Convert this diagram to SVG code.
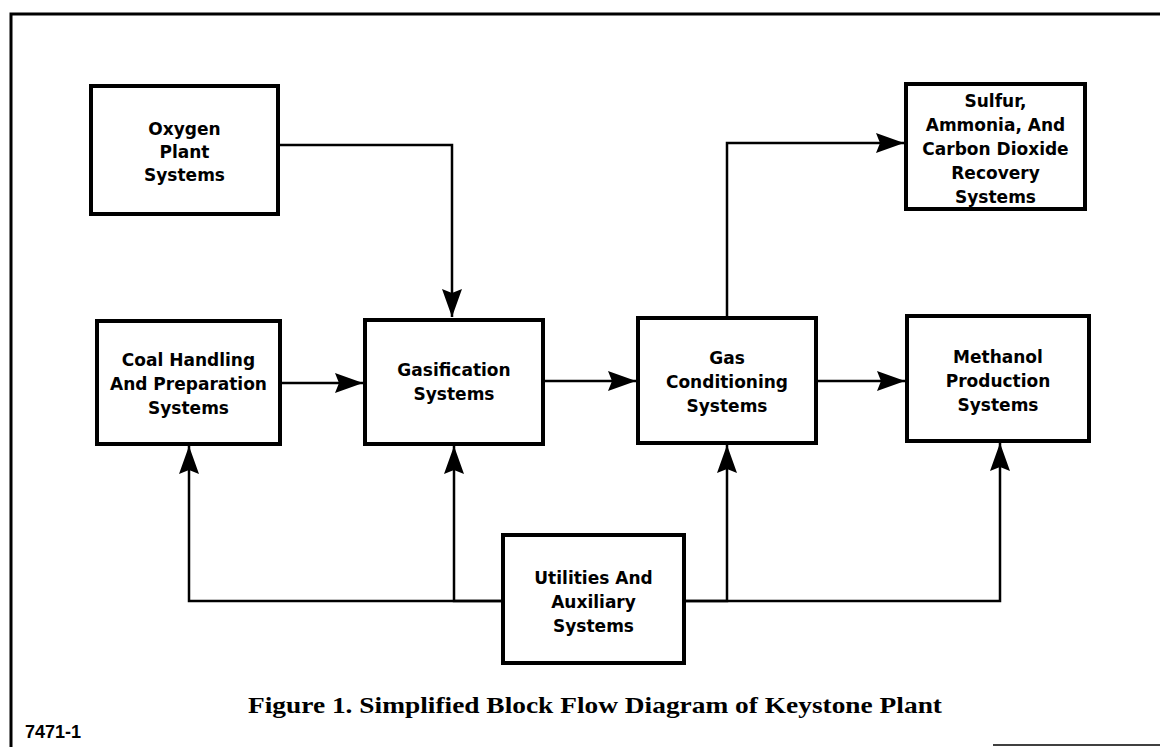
<svg xmlns="http://www.w3.org/2000/svg" width="1160" height="747" viewBox="0 0 1160 747">
<style>
.box{fill:#fff;stroke:#000;stroke-width:4}
.lbl{font-family:"DejaVu Sans","Liberation Sans",sans-serif;font-weight:bold;font-size:17px;text-anchor:middle;fill:#000}
.conn{fill:none;stroke:#000;stroke-width:2.5}
.frame{stroke:#000;stroke-width:3;fill:none}
</style>
<defs>
<marker id="ah" markerUnits="userSpaceOnUse" markerWidth="30" markerHeight="22" refX="28" refY="11" orient="auto">
<path d="M0,1 L28,11 L0,21 L4,11 z" fill="#000"/>
</marker>
</defs>
<rect width="1160" height="747" fill="#fff"/>
<g id="frame">
<path class="frame" d="M11,747 V14 H1160"/>
<line x1="993" y1="745" x2="1160" y2="745" stroke="#000" stroke-width="1.5"/>
</g>
<g id="connectors">
<path class="conn" d="M278,145 H452 V317" marker-end="url(#ah)"/>
<path class="conn" d="M280,383 H363" marker-end="url(#ah)"/>
<path class="conn" d="M543,381 H636" marker-end="url(#ah)"/>
<path class="conn" d="M816,381 H905" marker-end="url(#ah)"/>
<path class="conn" d="M727,318 V143 H904" marker-end="url(#ah)"/>
<path class="conn" d="M503,601 H189 V446" marker-end="url(#ah)"/>
<path class="conn" d="M503,601 H454 V446" marker-end="url(#ah)"/>
<path class="conn" d="M684,601 H727 V445" marker-end="url(#ah)"/>
<path class="conn" d="M684,601 H1000 V443" marker-end="url(#ah)"/>
</g>
<g id="oxygen">
<rect class="box" x="91" y="86" width="187" height="128"/>
<text class="lbl" x="184.5" y="135">Oxygen</text>
<text class="lbl" x="184.5" y="158">Plant</text>
<text class="lbl" x="184.5" y="181">Systems</text>
</g>
<g id="sulfur">
<rect class="box" x="906" y="84" width="179" height="125"/>
<text class="lbl" x="995.5" y="107">Sulfur,</text>
<text class="lbl" x="995.5" y="131">Ammonia, And</text>
<text class="lbl" x="995.5" y="155">Carbon Dioxide</text>
<text class="lbl" x="995.5" y="179">Recovery</text>
<text class="lbl" x="995.5" y="203">Systems</text>
</g>
<g id="coal">
<rect class="box" x="97" y="321" width="183" height="123"/>
<text class="lbl" x="188.5" y="366">Coal Handling</text>
<text class="lbl" x="188.5" y="390">And Preparation</text>
<text class="lbl" x="188.5" y="414">Systems</text>
</g>
<g id="gasification">
<rect class="box" x="365" y="320" width="178" height="124"/>
<text class="lbl" x="454" y="376">Gasification</text>
<text class="lbl" x="454" y="400">Systems</text>
</g>
<g id="gasconditioning">
<rect class="box" x="638" y="318" width="178" height="125"/>
<text class="lbl" x="727" y="364">Gas</text>
<text class="lbl" x="727" y="388">Conditioning</text>
<text class="lbl" x="727" y="412">Systems</text>
</g>
<g id="methanol">
<rect class="box" x="907" y="316" width="182" height="125"/>
<text class="lbl" x="998" y="363">Methanol</text>
<text class="lbl" x="998" y="387">Production</text>
<text class="lbl" x="998" y="411">Systems</text>
</g>
<g id="utilities">
<rect class="box" x="503" y="535" width="181" height="128"/>
<text class="lbl" x="593.5" y="584">Utilities And</text>
<text class="lbl" x="593.5" y="608">Auxiliary</text>
<text class="lbl" x="593.5" y="632">Systems</text>
</g>
<g id="caption">
<text x="248" y="713" font-family="Liberation Serif,serif" font-weight="bold" font-size="24" textLength="694" lengthAdjust="spacingAndGlyphs">Figure 1. Simplified Block Flow Diagram of Keystone Plant</text>
<text x="25" y="738" font-family="Liberation Sans,sans-serif" font-weight="bold" font-size="18">7471-1</text>
</g>
</svg>
